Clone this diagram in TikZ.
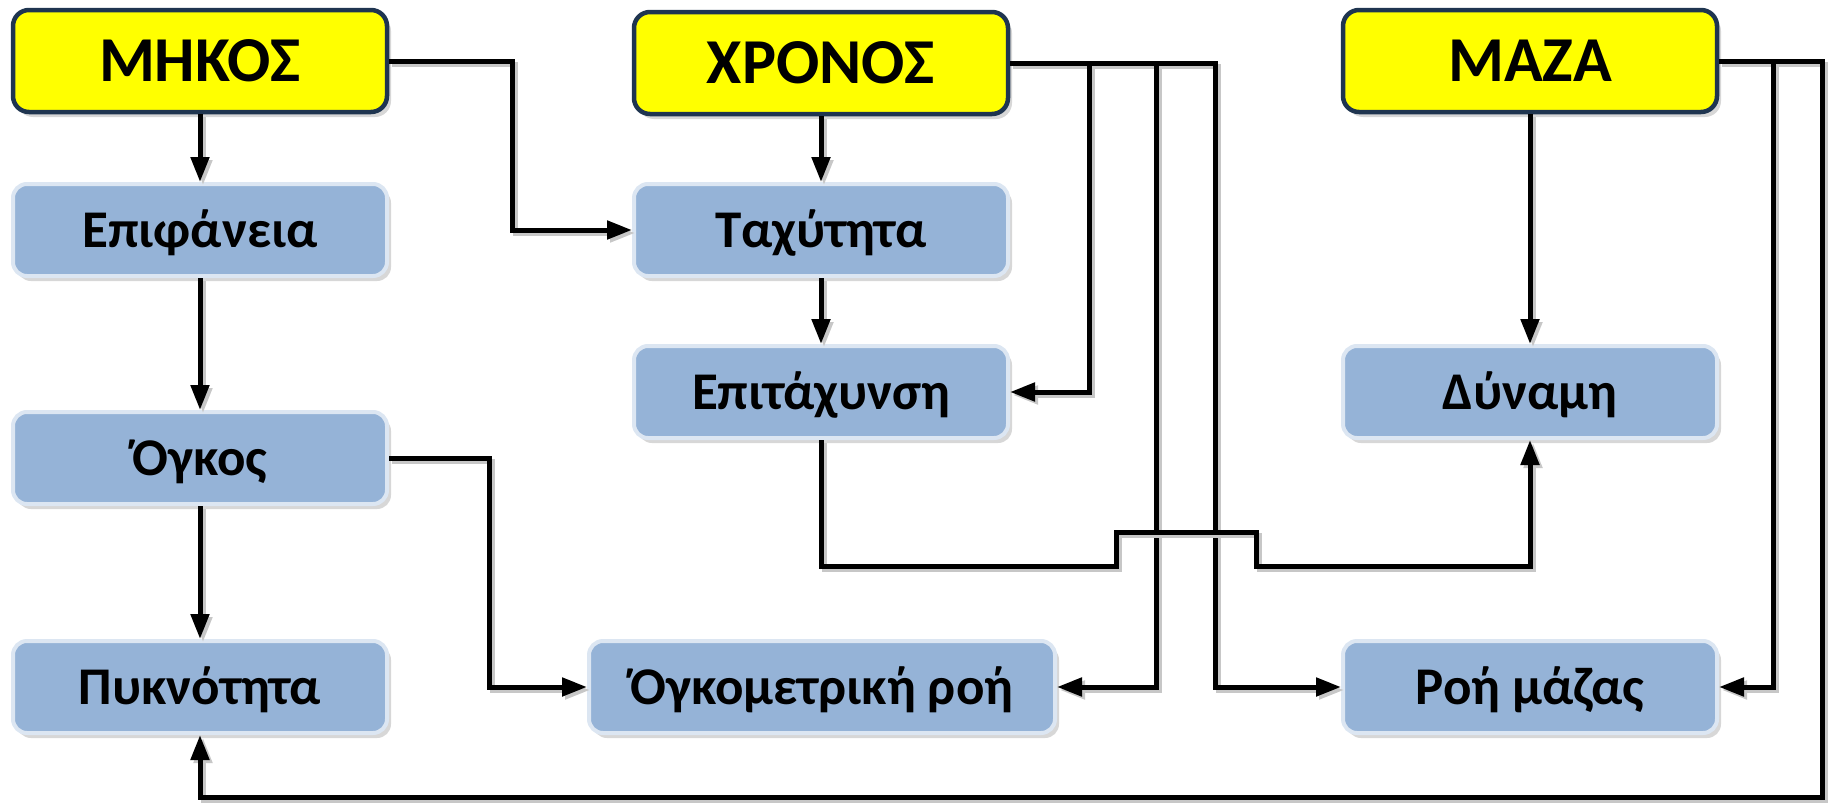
\documentclass[tikz,border=0pt]{standalone}
\usepackage{fontspec}
\setmainfont{Carlito}
\usetikzlibrary{arrows.meta,shadows}
\definecolor{navyb}{HTML}{1F3550}
\definecolor{yel}{HTML}{FFFF00}
\definecolor{bfill}{HTML}{95B3D7}
\definecolor{bbord}{HTML}{DCE6F2}
\begin{document}
\begin{tikzpicture}[x=1pt,y=-1pt,
  boxshadow/.style={drop shadow={shadow xshift=4pt,shadow yshift=-5pt,fill=black!35,opacity=0.45}},
  topbox/.style={draw=navyb, line width=4.5pt, fill=yel, rounded corners=16pt,
    minimum width=374pt, minimum height=102pt, inner sep=0pt,
    font=\bfseries\fontsize{64}{70}\selectfont, text height=41pt, text depth=0pt, boxshadow},
  qty/.style={draw=bbord, line width=4pt, fill=bfill, rounded corners=14pt,
    minimum width=374pt, minimum height=92pt, inner sep=0pt,
    font=\bfseries\fontsize{53}{58}\selectfont, text height=34pt, text depth=0pt, boxshadow},
  wire/.style={line width=5pt, preaction={draw=black!22, line width=5pt, transform canvas={xshift=3pt,yshift=-3pt}}},
  conn/.style={wire, -{Triangle[length=25pt,width=18pt]}}
]
\useasboundingbox (0,0) rectangle (1828,803);
\coordinate (tA) at (1089,63);
\coordinate (tB) at (1156,63);
\coordinate (tC) at (1215,63);
\coordinate (mA) at (1773,61);
\coordinate (mB) at (1822,61);
\coordinate (mC) at (1822,797);
\coordinate (lA) at (512,61);
\coordinate (vA) at (489,458);
\coordinate (j1) at (1116,566);
\coordinate (j2) at (1116,532);
\coordinate (j3) at (1256,532);
\coordinate (j4) at (1256,566);

\node[topbox] (len) at (200,61) {ΜΗΚΟΣ};
\node[topbox] (time) at (821,63) {ΧΡΟΝΟΣ};
\node[topbox] (mass) at (1530,61) {ΜΑΖΑ};
\node[qty] (area) at (200,230) {Επιφάνεια};
\node[qty] (vel) at (821,230) {Ταχύτητα};
\node[qty] (acc) at (821,392) {Επιτάχυνση};
\node[qty] (force) at (1530,392) {Δύναμη};
\node[qty] (vol) at (200,458) {Όγκος};
\node[qty] (dens) at (200,687) {Πυκνότητα};
\node[qty, minimum width=466pt] (vflow) at (822,687) {Όγκομετρική ροή};
\node[qty] (mflow) at (1530,687) {Ροή μάζας};

\draw[conn] (len) -- (area);
\draw[conn] (area) -- (vol);
\draw[conn] (vol) -- (dens);
\draw[conn] (len.east) -- (lA) |- (vel.west);
\draw[conn] (time) -- (vel);
\draw[conn] (vel) -- (acc);
\draw[conn] (time.east) -- (tC) |- (mflow.west);
\draw[conn] (tA) |- (acc.east);
\draw[conn] (tB) |- (vflow.east);
\draw[conn] (acc.south) |- (j1) -- (j2) -- (j3) -- (j4) -| (force.south);
\draw[conn] (mass) -- (force);
\draw[conn] (mass.east) -- (mB) -- (mC) -| (dens.south);
\draw[conn] (mA) |- (mflow.east);
\draw[conn] (vol.east) -- (vA) |- (vflow.west);
\end{tikzpicture}
\end{document}
